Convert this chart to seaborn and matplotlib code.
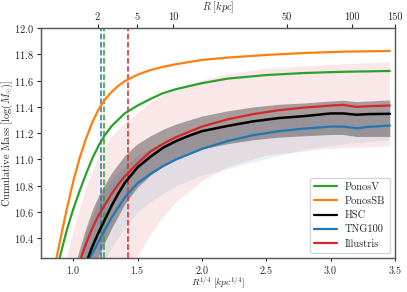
import matplotlib
matplotlib.use("Agg")
import matplotlib.pyplot as plt
from matplotlib.lines import Line2D
import seaborn as sns
import numpy as np
import pandas as pd

# median profiles, x = R^(1/4) [kpc^(1/4)], y = log cumulative mass
ponosv_x = [0.88, 0.9, 0.95, 1.0, 1.05, 1.1, 1.15, 1.2, 1.25, 1.3, 1.4, 1.5, 1.6, 1.7, 1.8, 2.0, 2.2, 2.5, 2.8, 3.1, 3.46]
ponosv_y = [10.19, 10.27, 10.46, 10.62, 10.76, 10.89, 11.01, 11.11, 11.19, 11.255, 11.35, 11.41, 11.46, 11.505, 11.535, 11.58, 11.615, 11.642, 11.658, 11.667, 11.673]

ponossb_x = [0.86, 0.9, 0.95, 1.0, 1.05, 1.1, 1.15, 1.2, 1.25, 1.3, 1.35, 1.4, 1.5, 1.6, 1.7, 1.8, 2.0, 2.2, 2.5, 2.8, 3.1, 3.46]
ponossb_y = [10.20, 10.39, 10.62, 10.83, 11.01, 11.16, 11.285, 11.385, 11.46, 11.515, 11.56, 11.595, 11.645, 11.68, 11.705, 11.725, 11.757, 11.775, 11.795, 11.81, 11.82, 11.825]

hsc_x = [1.09, 1.115, 1.15, 1.2, 1.25, 1.3, 1.35, 1.4, 1.5, 1.6, 1.7, 1.8, 1.9, 2.0, 2.2, 2.4, 2.6, 2.8, 3.0, 3.1, 3.2, 3.3, 3.46]
hsc_y = [10.18, 10.25, 10.34, 10.45, 10.55, 10.65, 10.74, 10.82, 10.94, 11.02, 11.09, 11.14, 11.18, 11.215, 11.255, 11.29, 11.315, 11.33, 11.35, 11.35, 11.34, 11.345, 11.347]

tng_x = [1.1, 1.13, 1.2, 1.25, 1.3, 1.4, 1.5, 1.6, 1.7, 1.8, 1.9, 2.0, 2.2, 2.4, 2.6, 2.8, 3.0, 3.1, 3.2, 3.3, 3.46]
tng_y = [10.19, 10.25, 10.38, 10.47, 10.56, 10.71, 10.82, 10.89, 10.95, 11.00, 11.04, 11.08, 11.14, 11.185, 11.215, 11.235, 11.25, 11.25, 11.237, 11.248, 11.258]

ill_x = [1.04, 1.06, 1.1, 1.15, 1.2, 1.25, 1.3, 1.35, 1.4, 1.5, 1.6, 1.7, 1.8, 1.9, 2.0, 2.2, 2.4, 2.6, 2.8, 3.0, 3.1, 3.2, 3.3, 3.46]
ill_y = [10.20, 10.25, 10.36, 10.48, 10.58, 10.66, 10.74, 10.81, 10.87, 10.97, 11.06, 11.12, 11.17, 11.21, 11.25, 11.305, 11.345, 11.375, 11.395, 11.41, 11.415, 11.40, 11.405, 11.41]

# HSC scatter band
band_x = [1.0, 1.05, 1.1, 1.15, 1.2, 1.25, 1.3, 1.4, 1.5, 1.6, 1.7, 1.8, 1.9, 2.0, 2.2, 2.4, 2.6, 2.8, 3.0, 3.1, 3.2, 3.3, 3.46]
band_hi = [10.15, 10.32, 10.48, 10.62, 10.73, 10.82, 10.90, 11.03, 11.12, 11.18, 11.23, 11.27, 11.30, 11.33, 11.37, 11.40, 11.42, 11.43, 11.445, 11.45, 11.44, 11.445, 11.453]
band_lo = [9.70, 9.80, 9.95, 10.13, 10.27, 10.38, 10.48, 10.66, 10.79, 10.88, 10.95, 11.00, 11.04, 11.08, 11.12, 11.15, 11.17, 11.18, 11.19, 11.19, 11.175, 11.175, 11.175]

# spread of individual Illustris / TNG100 profiles
ill_env_x = [0.92, 0.95, 1.0, 1.1, 1.2, 1.3, 1.4, 1.5, 1.6, 1.7, 1.8, 2.0, 2.2, 2.5, 3.0, 3.46]
ill_env_hi = [10.15, 10.25, 10.45, 10.78, 11.02, 11.17, 11.27, 11.35, 11.43, 11.49, 11.54, 11.60, 11.65, 11.69, 11.72, 11.74]
ill_env_lo = [9.0, 9.0, 9.2, 9.5, 9.7, 9.9, 10.08, 10.25, 10.42, 10.56, 10.67, 10.83, 10.94, 11.03, 11.08, 11.10]

tng_env_x = [1.0, 1.05, 1.1, 1.2, 1.3, 1.4, 1.5, 1.6, 1.8, 2.0, 2.4, 2.8, 3.2, 3.46]
tng_env_hi = [10.05, 10.25, 10.45, 10.70, 10.85, 10.95, 11.03, 11.08, 11.16, 11.22, 11.30, 11.34, 11.36, 11.37]
tng_env_lo = [9.7, 9.8, 9.95, 10.15, 10.33, 10.48, 10.60, 10.68, 10.80, 10.88, 10.98, 11.08, 11.13, 11.15]

# resolution limits, R^(1/4)
vlines_x = [1.236, 1.219, 1.428]
vlines_c = ["#2ca02c", "#1f77b4", "#d62728"]

r_ticks = [2, 5, 10, 50, 100, 150]

green, orange, blue, red = "#2ca02c", "#ff7f0e", "#1f77b4", "#d62728"

sns.set_style("ticks")
plt.rcParams["font.family"] = ["serif"]
plt.rcParams["font.serif"] = ["cmr10", "DejaVu Serif"]
plt.rcParams["mathtext.fontset"] = "cm"
plt.rcParams["axes.formatter.use_mathtext"] = True
plt.rcParams["font.size"] = 7

fig = plt.figure(figsize=(4.07, 2.92), dpi=100)
ax = fig.add_axes([0.1007, 0.1164, 0.8698, 0.7877])

ax.fill_between(ill_env_x, ill_env_lo, ill_env_hi, color=red, alpha=0.10, lw=0, zorder=1)
ax.fill_between(tng_env_x, tng_env_lo, tng_env_hi, color=blue, alpha=0.10, lw=0, zorder=1)
ax.fill_between(band_x, band_lo, band_hi, color="k", alpha=0.33, lw=0, zorder=2)

for xv, c in zip(vlines_x, vlines_c):
    ax.axvline(xv, color=c, ls="--", lw=1.1, zorder=3)

sns.lineplot(x=ponosv_x, y=ponosv_y, ax=ax, color=green, lw=1.6, sort=False, zorder=4)
sns.lineplot(x=ponossb_x, y=ponossb_y, ax=ax, color=orange, lw=1.6, sort=False, zorder=4)
sns.lineplot(x=tng_x, y=tng_y, ax=ax, color=blue, lw=1.6, sort=False, zorder=4)
sns.lineplot(x=ill_x, y=ill_y, ax=ax, color=red, lw=1.6, sort=False, zorder=5)
sns.lineplot(x=hsc_x, y=hsc_y, ax=ax, color="k", lw=1.8, sort=False, zorder=6)

ax.set_xlim(0.75, 3.5)
ax.set_ylim(10.25, 12.0)
ax.set_xticks([1.0, 1.5, 2.0, 2.5, 3.0, 3.5])
ax.set_yticks([10.4, 10.6, 10.8, 11.0, 11.2, 11.4, 11.6, 11.8, 12.0])
ax.set_xlabel(r"$R^{1/4}\ [kpc^{1/4}]$", fontsize=7)
ax.set_ylabel(r"Cumulative Mass $[\log(M_{\odot})]$", fontsize=7.5)
ax.xaxis.set_label_coords(0.5, -0.076)
ax.yaxis.set_label_coords(-0.072, 0.5)
ax.tick_params(labelsize=7.5, length=3, pad=2)
ax.tick_params(axis="x", labelsize=7.2, length=2.5, pad=1.5)

ax2 = ax.twiny()
ax2.set_xlim(ax.get_xlim())
ax2.set_xticks([r ** 0.25 for r in r_ticks])
ax2.set_xticklabels([str(r) for r in r_ticks])
ax2.set_xlabel(r"$R\ [kpc]$", fontsize=7.5, labelpad=2)
ax2.tick_params(labelsize=7.5, length=3, pad=1)

for a in (ax, ax2):
    for s in a.spines.values():
        s.set_color("0.35")
        s.set_linewidth(0.9)

handles = [Line2D([], [], color=c, lw=1.6) for c in (green, orange, "k", blue, red)]
labels = ["PonosV", "PonosSB", "HSC", "TNG100", "Illustris"]
ax.legend(handles, labels, loc="lower right", fontsize=7.5, frameon=True,
          handlelength=2.2, borderaxespad=0.5, labelspacing=0.45)

fig.savefig("out.png", dpi=100)
